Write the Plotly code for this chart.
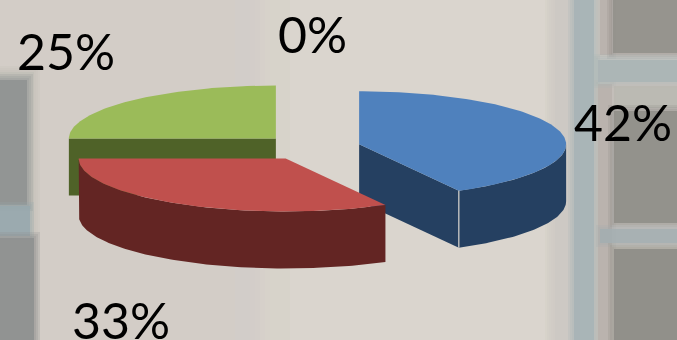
import math
import plotly.graph_objects as go

# Data
percents = [42, 33, 25, 0]
top_colors = ["#4F81BD", "#C0504D", "#9BBB59", "#8064A2"]
side_colors = ["#254061", "#632523", "#4F6228", "#403152"]
label_xy = [(623, 122), (121, 320), (66, 51), (312, 34)]
draw_order = [3, 2, 0, 1]

# Pie geometry in page pixels
CX, CY, RX, RY, DEPTH, EXPLODE = 311, 147.5, 207, 53, 57, 0.24
W, H = 677, 340


def arc(c, a0, a1, dy=0):
    n = max(2, int(abs(a1 - a0)) + 1)
    xs, ys = [], []
    for i in range(n):
        a = math.radians(a0 + (a1 - a0) * i / (n - 1))
        xs.append(c[0] + RX * math.sin(a))
        ys.append(c[1] - RY * math.cos(a) + dy)
    return xs, ys


def poly(x, y, color, width=0):
    return go.Scatter(x=x, y=y, mode="lines", fill="toself", fillcolor=color,
                      line=dict(color=color, width=width), hoverinfo="skip", showlegend=False)


fig = go.Figure()
total = sum(percents)
starts, a = [], 0.0
for p in percents:
    starts.append(a)
    a += 360 * p / total

for i in draw_order:
    if percents[i] == 0:
        continue
    a0 = starts[i]
    a1 = a0 + 360 * percents[i] / total
    mid = math.radians((a0 + a1) / 2)
    c = (CX + EXPLODE * RX * math.sin(mid), CY - EXPLODE * RY * math.cos(mid))
    # cut faces that look to the front
    for ang, vis in ((a0, math.sin(math.radians(a0)) < -1e-6), (a1, math.sin(math.radians(a1)) > 1e-6)):
        if vis:
            ex, ey = arc(c, ang, ang)
            ex, ey = ex[0], ey[0]
            fig.add_trace(poly([c[0], ex, ex, c[0], c[0]],
                               [c[1], ey, ey + DEPTH, c[1] + DEPTH, c[1]], side_colors[i]))
    # rim
    f0, f1 = max(a0, 90), min(a1, 270)
    if f1 > f0:
        tx, ty = arc(c, f0, f1)
        bx, by = arc(c, f1, f0, DEPTH)
        fig.add_trace(poly(tx + bx + tx[:1], ty + by + ty[:1], side_colors[i]))
    # top
    tx, ty = arc(c, a0, a1)
    fig.add_trace(poly([c[0]] + tx + [c[0]], [c[1]] + ty + [c[1]], top_colors[i]))
    # pale seam on the corner of the exploded blue slice
    if i == 0:
        ex, ey = arc(c, a1, a1)
        fig.add_trace(go.Scatter(x=[ex[0], ex[0]], y=[ey[0], ey[0] + DEPTH], mode="lines",
                                 line=dict(color="#D8D4CE", width=1.2),
                                 hoverinfo="skip", showlegend=False))

shapes = []


def rect(x0, y0, x1, y1, color, soft=0, step=2):
    """Translucent stack so that the photo's blurred edges are hinted at."""
    for k in range(soft, 0, -1):
        shapes.append(dict(type="rect", layer="below", x0=x0 - k * step, x1=x1 + k * step,
                           y0=y0 - k * step, y1=y1 + k * step, fillcolor=color,
                           opacity=0.22, line_width=0))
    shapes.append(dict(type="rect", layer="below", x0=x0, x1=x1, y0=y0, y1=y1,
                       fillcolor=color, opacity=1 if soft == 0 else 0.85, line_width=0))


rect(0, 0, W, H, "#D6D0CA")
rect(-20, -20, 235, 360, "#D3CDC7", 6, 5)
rect(290, -20, 545, 360, "#DAD5CF", 6, 5)
# left window
rect(-10, 72, 34, 360, "#C2C0B8", 3)
rect(-10, 80, 27, 205, "#8E9292", 3)
rect(-10, 206, 30, 236, "#98A8AE", 2)
rect(-10, 238, 34, 360, "#8D8F8F", 3)
# right window
rect(555, -10, 572, 360, "#CDC9C3", 4)
rect(574, -10, 594, 360, "#A6B3B6", 3)
rect(598, 84, 612, 360, "#B7B0AB", 2)
rect(600, -10, 612, 55, "#B7B0AB", 2)
rect(613, -10, 690, 53, "#908F8A", 3)
rect(598, 60, 690, 82, "#A9B4B5", 3)
rect(614, 86, 690, 108, "#B9B7B0", 2)
rect(614, 111, 690, 223, "#8E8D87", 3)
rect(600, 229, 690, 243, "#A3AEB0", 2)
rect(614, 249, 690, 360, "#8C8B86", 3)

annotations = [
    dict(x=x, y=y, text=f"{p}%", showarrow=False, xref="x", yref="y",
         font=dict(family="Lato", size=50, color="#000000"))
    for p, (x, y) in zip(percents, label_xy)
]

fig.update_layout(
    width=W, height=H, margin=dict(l=0, r=0, t=0, b=0),
    paper_bgcolor="#D6D0CA", plot_bgcolor="rgba(0,0,0,0)",
    xaxis=dict(range=[0, W], visible=False, fixedrange=True),
    yaxis=dict(range=[H, 0], visible=False, fixedrange=True),
    shapes=shapes, annotations=annotations, showlegend=False,
)
fig.write_html("out.html", config={"displayModeBar": False},
               post_script="document.body.style.margin='0';document.body.style.overflow='hidden';")
